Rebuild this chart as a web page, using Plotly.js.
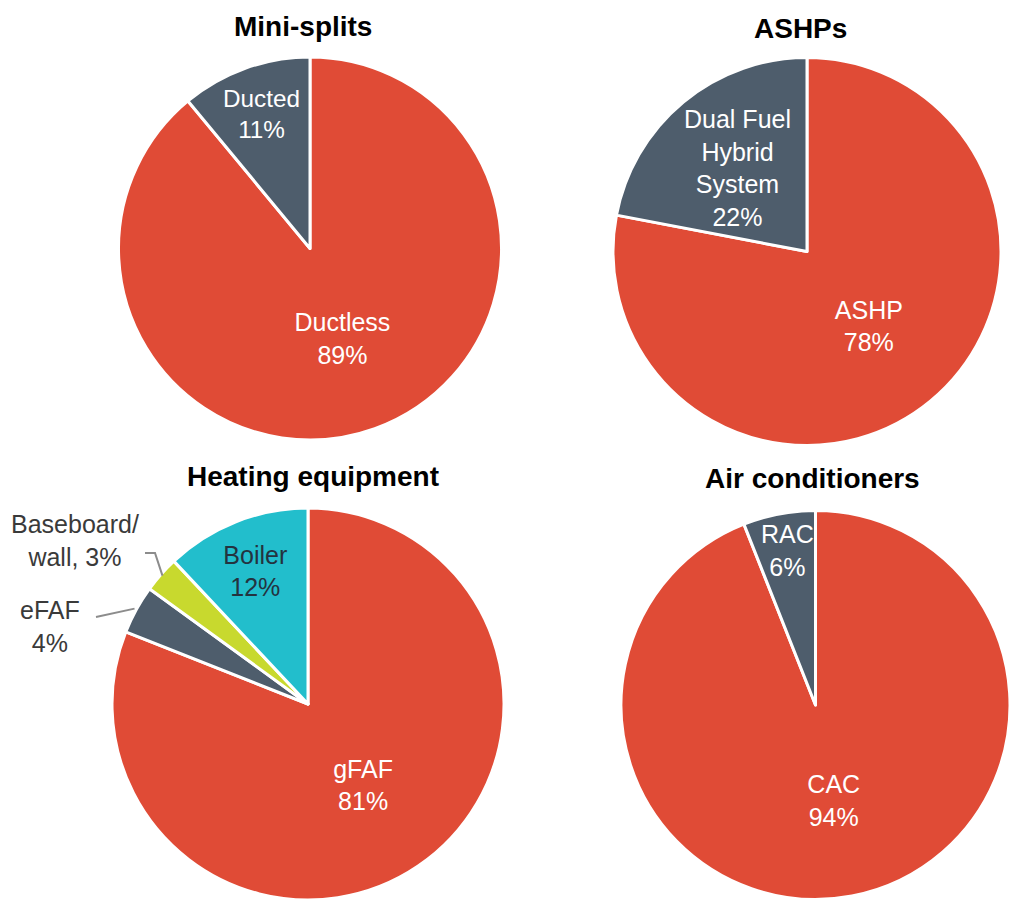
<!DOCTYPE html>
<html>
<head>
<meta charset="utf-8">
<script src="https://cdn.plot.ly/plotly-3.0.1.min.js"></script>
<style>html,body{margin:0;padding:0;background:#fff;}#chart{width:1010px;height:903px;}</style>
</head>
<body>
<div id="chart"></div>
<script>
// ---- data (slices listed clockwise from 12 o'clock) ----
const titles = ["Mini-splits", "ASHPs", "Heating equipment", "Air conditioners"];

const miniLabels = ["Ductless", "Ducted"];
const miniValues = [89, 11];

const ashpLabels = ["ASHP", "Dual Fuel<br>Hybrid<br>System"];
const ashpValues = [78, 22];

const heatLabels = ["gFAF", "eFAF", "Baseboard/<br>wall", "Boiler"];
const heatValues = [81, 4, 3, 12];

const acLabels = ["CAC", "RAC"];
const acValues = [94, 6];

// ---- styling ----
const W = 1010, H = 903;
const RED = "#E04B36", SLATE = "#4E5D6C", CYAN = "#22BECC", LIME = "#C8D92E";
const FONT = "Liberation Sans, Arial, sans-serif";
const LBL = 25;

function dom(cx, cy, r) {
  return {x: [(cx - r) / W, (cx + r) / W], y: [1 - (cy + r) / H, 1 - (cy - r) / H]};
}
const geo = [
  {cx: 310, cy: 248.5, r: 191.5},
  {cx: 807, cy: 251.5, r: 194},
  {cx: 308, cy: 704, r: 196},
  {cx: 817, cy: 705, r: 196}
];

function pieTrace(labels, values, colors, g, extra) {
  return Object.assign({
    type: "pie",
    labels: labels,
    values: values,
    sort: false,
    direction: "clockwise",
    rotation: 0,
    domain: dom(g.cx, g.cy, g.r),
    marker: {colors: colors, line: {color: "#ffffff", width: 3}},
    texttemplate: "%{label}<br>%{value}%",
    textposition: "inside",
    insidetextorientation: "horizontal",
    textfont: {family: FONT, size: LBL, color: "#ffffff"},
    hoverinfo: "label+value",
    showlegend: false
  }, extra || {});
}

const traces = [
  pieTrace(miniLabels, miniValues, [RED, SLATE], geo[0]),
  pieTrace(ashpLabels, ashpValues, [RED, SLATE], geo[1], {
    textposition: ["inside", "none"]
  }),
  pieTrace(heatLabels, heatValues, [RED, SLATE, LIME, CYAN], geo[2], {
    textposition: ["inside", "none", "none", "inside"],
    textfont: {family: FONT, size: LBL, color: ["#ffffff", "#ffffff", "#ffffff", "#24333F"]}
  }),
  pieTrace(acLabels, acValues, [RED, SLATE], geo[3], {
    textposition: ["inside", "none"]
  })
];

// title annotations
const titlePos = [[303, 27], [800, 28], [313, 476], [812, 478]];
const annotations = titles.map((t, i) => ({
  text: "<b>" + t + "</b>",
  x: titlePos[i][0] / W, y: 1 - titlePos[i][1] / H,
  xref: "paper", yref: "paper", xanchor: "center", yanchor: "middle",
  showarrow: false,
  font: {family: FONT, size: 28, color: "#000000"}
}));

// point along a slice's mid-angle (slices run clockwise from 12 o'clock)
function slicePoint(values, idx, g, frac) {
  const total = values.reduce((a, b) => a + b, 0);
  let start = 0;
  for (let i = 0; i < idx; i++) start += values[i];
  const mid = (start + values[idx] / 2) / total * 2 * Math.PI;
  return [g.cx + g.r * frac * Math.sin(mid), g.cy - g.r * frac * Math.cos(mid)];
}

// labels for narrow slices placed along their mid-angle at full size
function sliceLabel(labels, values, idx, g, frac) {
  const p = slicePoint(values, idx, g, frac);
  return {
    text: labels[idx] + "<br>" + values[idx] + "%",
    x: p[0] / W, y: 1 - p[1] / H, xref: "paper", yref: "paper",
    xanchor: "center", yanchor: "middle", align: "center", showarrow: false,
    font: {family: FONT, size: LBL, color: "#ffffff"}
  };
}
annotations.push(sliceLabel(acLabels, acValues, 1, geo[3], 0.8));
annotations.push(sliceLabel(ashpLabels, ashpValues, 1, geo[1], 0.56));

// outside labels for small heating slices with leader lines computed from slice angles
const bbEnd = slicePoint(heatValues, 2, geo[2], 0.99);
const efEnd = slicePoint(heatValues, 1, geo[2], 1.01);

annotations.push({
  text: "Baseboard/<br>wall, " + heatValues[2] + "%",
  x: 75 / W, y: 1 - 540 / H, xref: "paper", yref: "paper",
  xanchor: "center", yanchor: "middle", align: "center", showarrow: false,
  font: {family: FONT, size: LBL, color: "#3a3a3a"}
});
annotations.push({
  text: "eFAF<br>" + heatValues[1] + "%",
  x: 50 / W, y: 1 - 626 / H, xref: "paper", yref: "paper",
  xanchor: "center", yanchor: "middle", align: "center", showarrow: false,
  font: {family: FONT, size: LBL, color: "#3a3a3a"}
});

function P(x, y) { return (x / W).toFixed(5) + "," + (1 - y / H).toFixed(5); }
const shapes = [
  {type: "path", xref: "paper", yref: "paper",
   path: "M" + P(145, 553) + " L" + P(155, 553) + " L" + P(bbEnd[0], bbEnd[1]),
   line: {color: "#8c8c8c", width: 2}},
  {type: "path", xref: "paper", yref: "paper",
   path: "M" + P(96, 617) + " L" + P(efEnd[0], efEnd[1]),
   line: {color: "#8c8c8c", width: 2}}
];

const layout = {
  width: W, height: H,
  margin: {l: 0, r: 0, t: 0, b: 0, autoexpand: false},
  paper_bgcolor: "#ffffff",
  showlegend: false,
  annotations: annotations,
  shapes: shapes,
  font: {family: FONT}
};

Plotly.newPlot("chart", traces, layout, {displayModeBar: false, staticPlot: true});
</script>
</body>
</html>
